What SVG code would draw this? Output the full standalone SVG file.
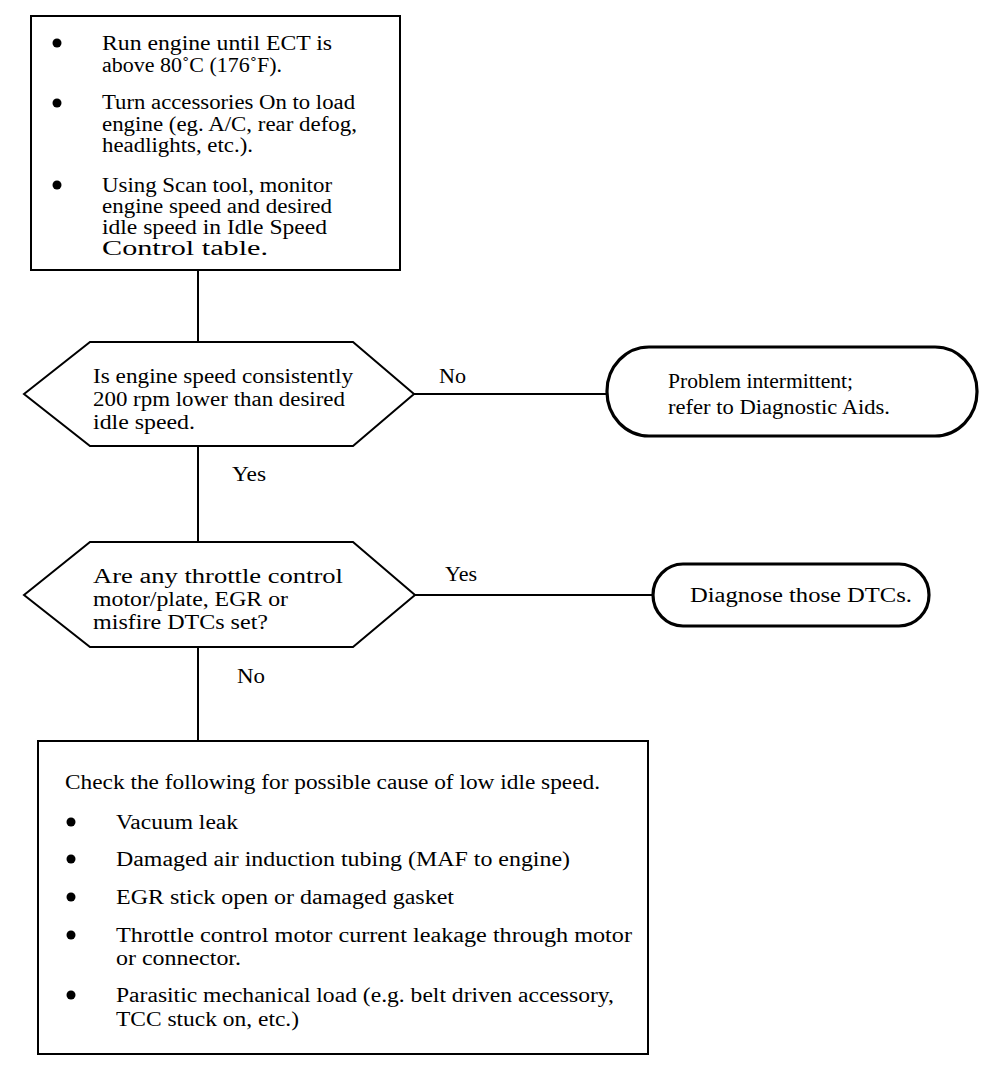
<svg xmlns="http://www.w3.org/2000/svg" width="992" height="1076" viewBox="0 0 992 1076">
<style>
.box{fill:#fff;stroke:#000;stroke-width:2}
.term{fill:#fff;stroke:#000;stroke-width:3.2}
.ln{fill:none;stroke:#000;stroke-width:2}
text{font-family:"Liberation Serif","Times New Roman",serif;font-size:20px;fill:#000}
.b{fill:#000}
</style>
<rect width="992" height="1076" fill="#fff"/>
<g id="connectors">
<line class="ln" x1="198" y1="270" x2="198" y2="342"/>
<line class="ln" x1="198" y1="446" x2="198" y2="541"/>
<line class="ln" x1="198" y1="647" x2="198" y2="741"/>
<line class="ln" x1="414" y1="394" x2="607" y2="394"/>
<line class="ln" x1="415" y1="595" x2="653" y2="595"/>
<text x="439" y="383" textLength="27" lengthAdjust="spacingAndGlyphs">No</text>
<text x="232" y="481" textLength="34" lengthAdjust="spacingAndGlyphs">Yes</text>
<text x="445" y="581" textLength="32" lengthAdjust="spacingAndGlyphs">Yes</text>
<text x="237" y="683" textLength="28" lengthAdjust="spacingAndGlyphs">No</text>
</g>
<g id="start">
<rect class="box" x="31" y="16" width="369" height="254"/>
<circle class="b" cx="57" cy="43" r="4.5"/>
<circle class="b" cx="57" cy="103" r="4.5"/>
<circle class="b" cx="57" cy="185" r="4.5"/>
<text x="102" y="50" textLength="230" lengthAdjust="spacingAndGlyphs">Run engine until ECT is</text>
<text x="102" y="72" textLength="180" lengthAdjust="spacingAndGlyphs">above 80˚C (176˚F).</text>
<text x="102" y="109" textLength="253" lengthAdjust="spacingAndGlyphs">Turn accessories On to load</text>
<text x="102" y="131" textLength="255" lengthAdjust="spacingAndGlyphs">engine (eg. A/C, rear defog,</text>
<text x="102" y="152" textLength="151" lengthAdjust="spacingAndGlyphs">headlights, etc.).</text>
<text x="102" y="192" textLength="230" lengthAdjust="spacingAndGlyphs">Using Scan tool, monitor</text>
<text x="102" y="213" textLength="230" lengthAdjust="spacingAndGlyphs">engine speed and desired</text>
<text x="102" y="234" textLength="225" lengthAdjust="spacingAndGlyphs">idle speed in Idle Speed</text>
<text x="102" y="255" textLength="166" lengthAdjust="spacingAndGlyphs">Control table.</text>
</g>
<g id="decision1">
<polygon class="box" points="24,394 90,342 353,342 414,394 353,446 90,446"/>
<text x="93" y="383" textLength="260" lengthAdjust="spacingAndGlyphs">Is engine speed consistently</text>
<text x="93" y="406" textLength="252" lengthAdjust="spacingAndGlyphs">200 rpm lower than desired</text>
<text x="93" y="429" textLength="102" lengthAdjust="spacingAndGlyphs">idle speed.</text>
</g>
<g id="intermittent">
<rect class="term" x="607" y="347" width="370" height="89" rx="42" ry="44"/>
<text x="668" y="388" textLength="185" lengthAdjust="spacingAndGlyphs">Problem intermittent;</text>
<text x="668" y="414" textLength="222" lengthAdjust="spacingAndGlyphs">refer to Diagnostic Aids.</text>
</g>
<g id="decision2">
<polygon class="box" points="24,595 90,542 353,542 415,595 353,647 90,647"/>
<text x="93" y="583" textLength="250" lengthAdjust="spacingAndGlyphs">Are any throttle control</text>
<text x="93" y="606" textLength="195" lengthAdjust="spacingAndGlyphs">motor/plate, EGR or</text>
<text x="93" y="629" textLength="175" lengthAdjust="spacingAndGlyphs">misfire DTCs set?</text>
</g>
<g id="diagnose">
<rect class="term" x="653" y="564" width="276" height="62" rx="30" ry="31"/>
<text x="690" y="602" textLength="222" lengthAdjust="spacingAndGlyphs">Diagnose those DTCs.</text>
</g>
<g id="check">
<rect class="box" x="38" y="741" width="610" height="313"/>
<text x="65" y="789" textLength="535" lengthAdjust="spacingAndGlyphs">Check the following for possible cause of low idle speed.</text>
<circle class="b" cx="71" cy="822" r="4.5"/>
<circle class="b" cx="71" cy="859" r="4.5"/>
<circle class="b" cx="71" cy="897" r="4.5"/>
<circle class="b" cx="71" cy="935" r="4.5"/>
<circle class="b" cx="71" cy="995" r="4.5"/>
<text x="116" y="829" textLength="122" lengthAdjust="spacingAndGlyphs">Vacuum leak</text>
<text x="116" y="866" textLength="454" lengthAdjust="spacingAndGlyphs">Damaged air induction tubing (MAF to engine)</text>
<text x="116" y="904" textLength="338" lengthAdjust="spacingAndGlyphs">EGR stick open or damaged gasket</text>
<text x="116" y="942" textLength="516" lengthAdjust="spacingAndGlyphs">Throttle control motor current leakage through motor</text>
<text x="116" y="965" textLength="125" lengthAdjust="spacingAndGlyphs">or connector.</text>
<text x="116" y="1002" textLength="498" lengthAdjust="spacingAndGlyphs">Parasitic mechanical load (e.g. belt driven accessory,</text>
<text x="116" y="1026" textLength="183" lengthAdjust="spacingAndGlyphs">TCC stuck on, etc.)</text>
</g>
</svg>
